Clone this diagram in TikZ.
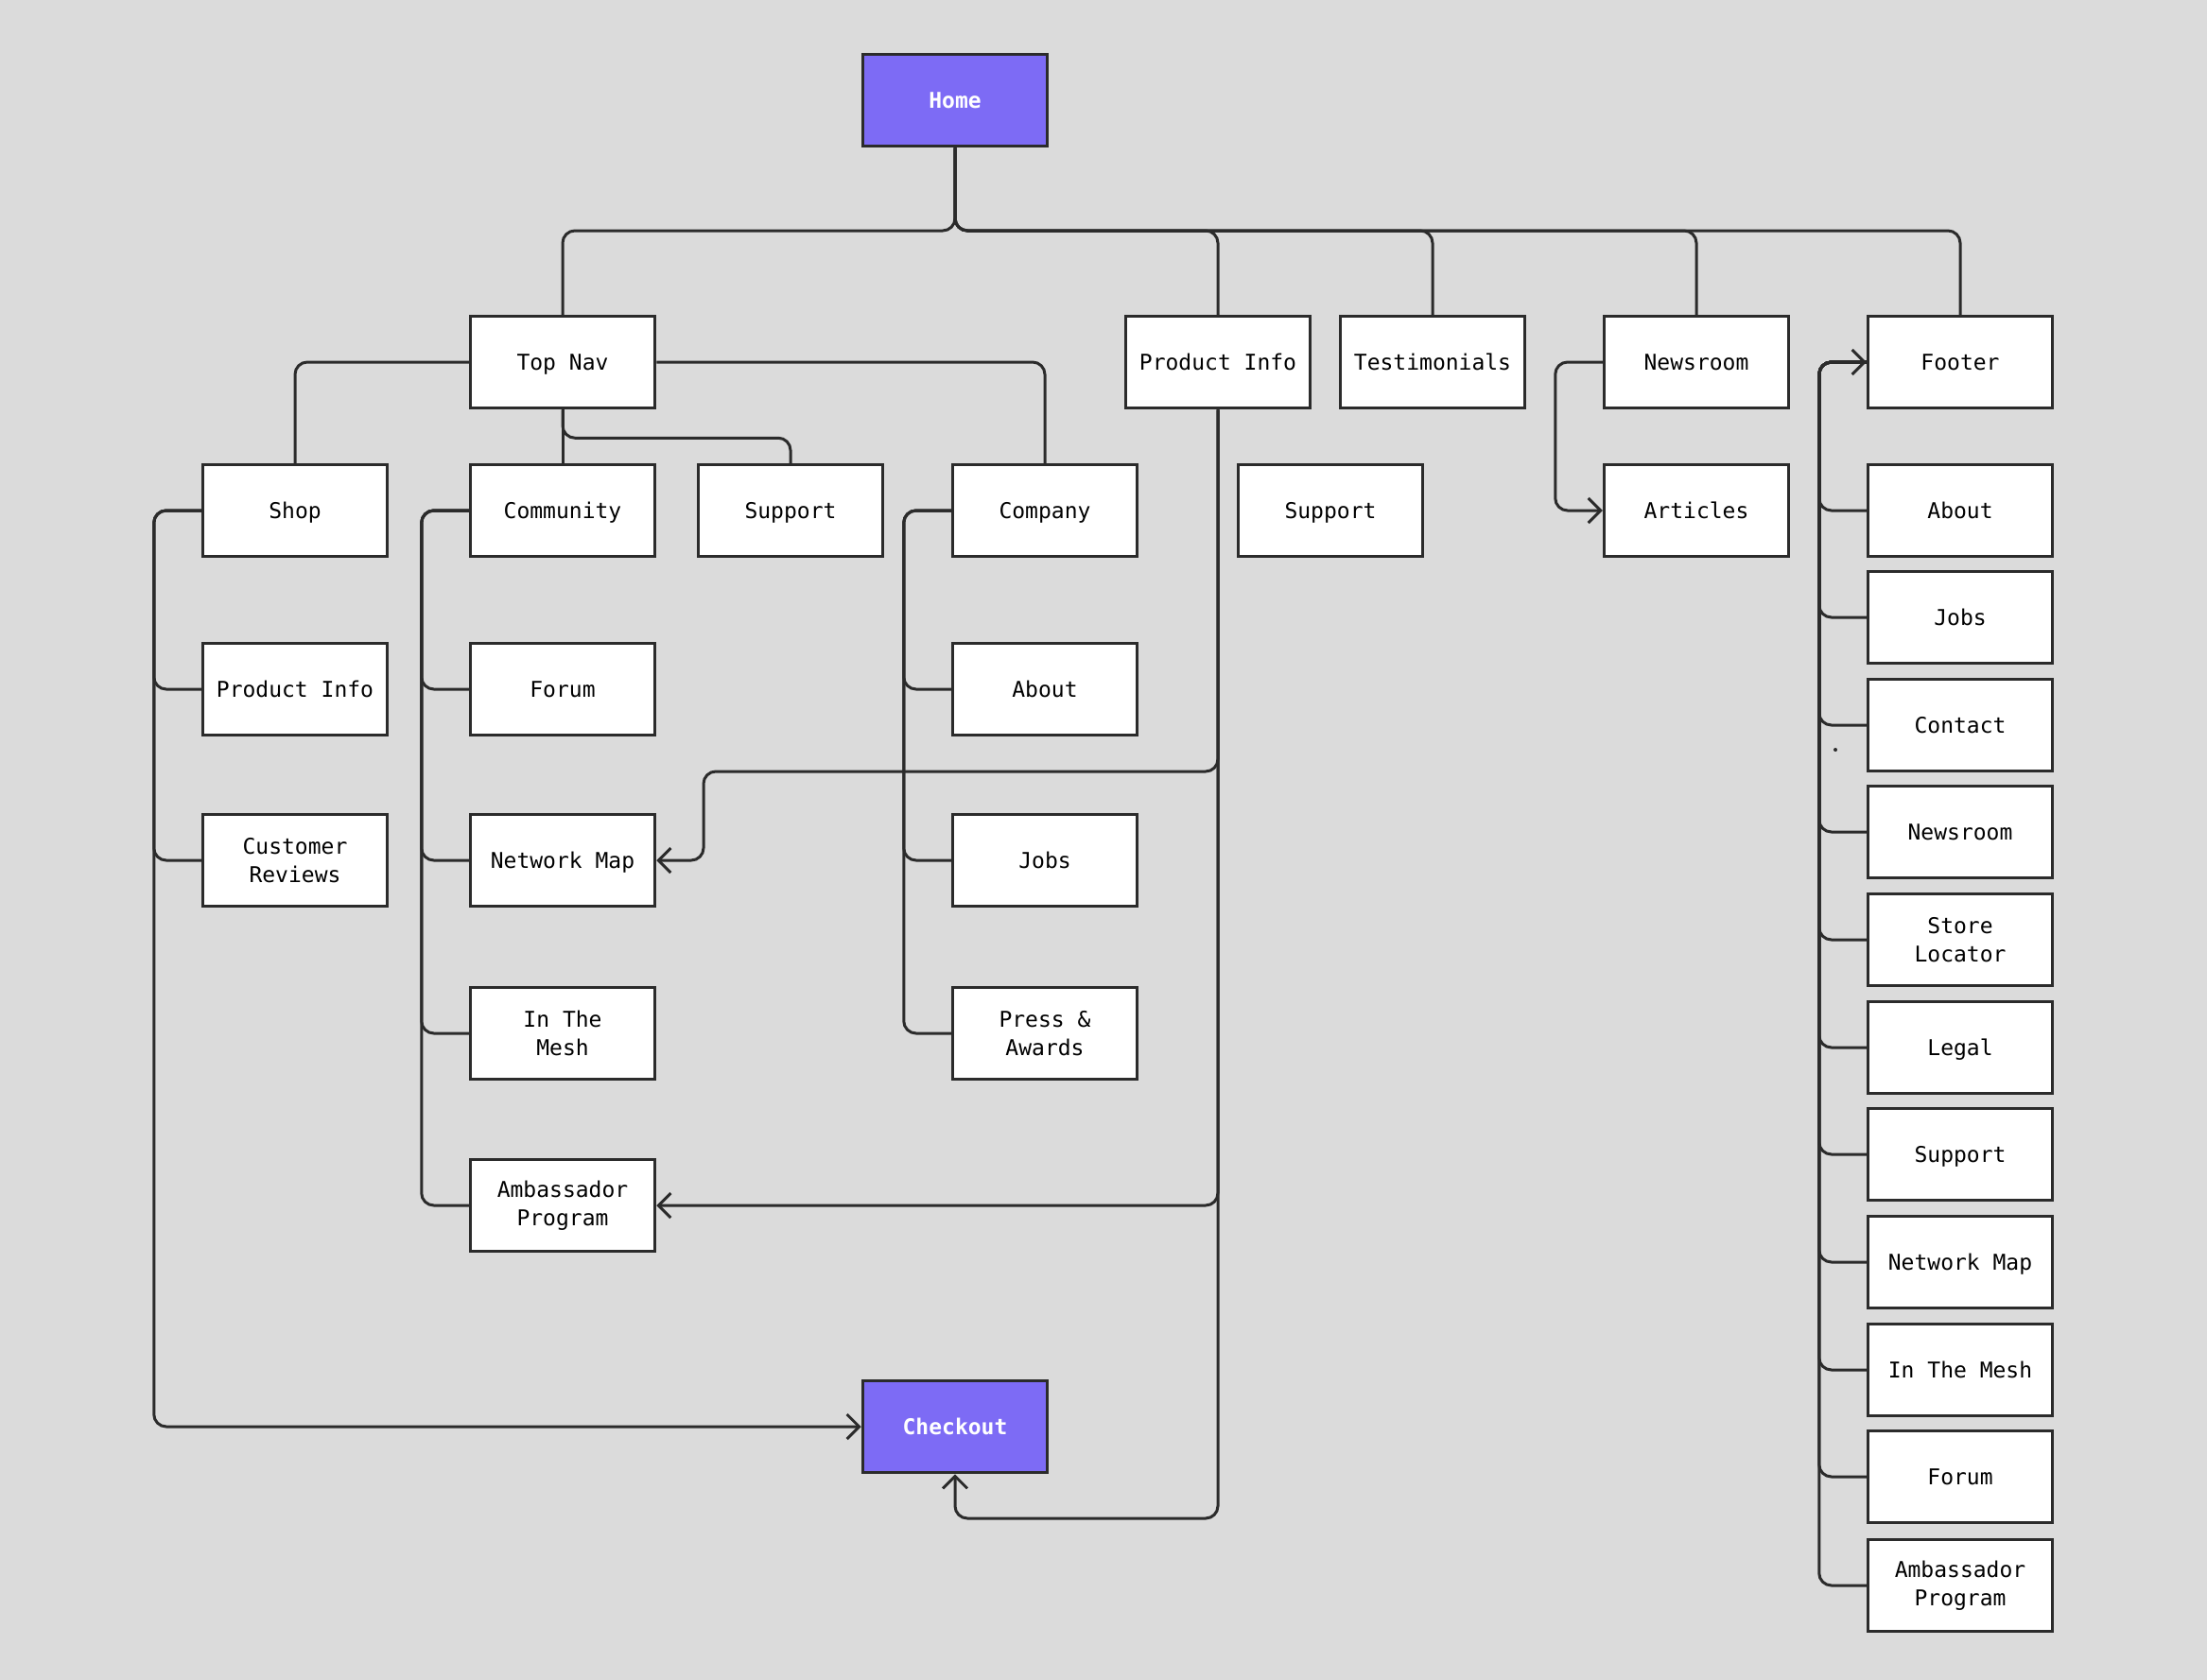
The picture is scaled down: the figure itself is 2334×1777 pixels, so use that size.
\documentclass[tikz,border=0pt]{standalone}
\usepackage{fontspec}
\setmonofont{DejaVu Sans Mono}
\usetikzlibrary{arrows.meta}
\definecolor{bg}{HTML}{DBDBDB}
\definecolor{ink}{HTML}{2B2B2B}
\definecolor{purp}{HTML}{7D6BF5}
\begin{document}
\begin{tikzpicture}[x=1pt,y=-1pt,
 box/.style={draw=ink, line width=3.5pt, fill=white, minimum width=195pt, minimum height=97pt, inner sep=0pt, align=center, font=\fontsize{23}{30}\selectfont\ttfamily},
 one/.style={box, text height=16.8pt, text depth=0pt},
 hl/.style={one, fill=purp, text=white, font=\fontsize{23}{30}\selectfont\ttfamily\bfseries},
 conn/.style={draw=ink, line width=3pt, rounded corners=13pt},
 arr/.style={conn, -{Straight Barb[length=13pt, width=26pt]}}
]
\fill[bg] (0,0) rectangle (2334,1777);

% nodes
\node[hl]  (home)     at (1010,106)  {Home};
\node[one] (topnav)   at (595,383)   {Top Nav};
\node[one] (pinfo)    at (1288,383)  {Product Info};
\node[one] (testi)    at (1515,383)  {Testimonials};
\node[one] (news)     at (1794,383)  {Newsroom};
\node[one] (footer)   at (2073,383)  {Footer};

\node[one] (shop)     at (312,540)   {Shop};
\node[one] (comm)     at (595,540)   {Community};
\node[one] (supa)     at (836,540)   {Support};
\node[one] (comp)     at (1105,540)  {Company};
\node[one] (supb)     at (1407,540)  {Support};
\node[one] (articles) at (1794,540)  {Articles};

\node[one] (pinfob)   at (312,729)   {Product Info};
\node[one] (forum)    at (595,729)   {Forum};
\node[one] (about)    at (1105,729)  {About};

\node[box] (reviews)  at (312,910)   {Customer\\Reviews};
\node[one] (netmap)   at (595,910)   {Network Map};
\node[one] (jobs)     at (1105,910)  {Jobs};

\node[box] (mesh)     at (595,1093)  {In The\\Mesh};
\node[box] (press)    at (1105,1093) {Press \&\\Awards};

\node[box] (amb)      at (595,1275)  {Ambassador\\Program};
\node[hl]  (checkout) at (1010,1509) {Checkout};

\node[one] (fa)  at (2073,540)  {About};
\node[one] (fb)  at (2073,653)  {Jobs};
\node[one] (fc)  at (2073,767)  {Contact};
\node[one] (fd)  at (2073,880)  {Newsroom};
\node[box] (fe)  at (2073,994)  {Store\\Locator};
\node[one] (ff)  at (2073,1108) {Legal};
\node[one] (fg)  at (2073,1221) {Support};
\node[one] (fh)  at (2073,1335) {Network Map};
\node[one] (fi)  at (2073,1449) {In The Mesh};
\node[one] (fj)  at (2073,1562) {Forum};
\node[box] (fk)  at (2073,1677) {Ambassador\\Program};

\fill[ink] (1941,793) circle (2pt);

% coordinates
\coordinate (bus)    at (1010,244);
\coordinate (nmturn) at (744,816);
\coordinate (chk)    at (1010,1606);

% Home bus
\draw[conn] (home.south) -- (bus) -| (topnav.north);
\draw[conn] (home.south) -- (bus) -| (pinfo.north);
\draw[conn] (home.south) -- (bus) -| (testi.north);
\draw[conn] (home.south) -- (bus) -| (news.north);
\draw[conn] (home.south) -- (bus) -| (footer.north);

% Top Nav
\draw[conn] (topnav.west) -| (shop.north);
\draw[conn] (topnav.east) -| (comp.north);
\draw[conn] (topnav.south) -- (comm.north);
\draw[conn] (topnav.south) -- ++(0,30) -| (supa.north);

% Shop
\draw[conn] (shop.west) -- ++(-50,0) |- (pinfob.west);
\draw[conn] (shop.west) -- ++(-50,0) |- (reviews.west);
\draw[arr]  (shop.west) -- ++(-50,0) |- (checkout.west);

% Community
\draw[conn] (comm.west) -- ++(-50,0) |- (forum.west);
\draw[conn] (comm.west) -- ++(-50,0) |- (netmap.west);
\draw[conn] (comm.west) -- ++(-50,0) |- (mesh.west);
\draw[conn] (comm.west) -- ++(-50,0) |- (amb.west);

% Company
\draw[conn] (comp.west) -- ++(-50,0) |- (about.west);
\draw[conn] (comp.west) -- ++(-50,0) |- (jobs.west);
\draw[conn] (comp.west) -- ++(-50,0) |- (press.west);

% Product Info
\draw[arr] (pinfo.south) |- (nmturn) |- (netmap.east);
\draw[arr] (pinfo.south) |- (amb.east);
\draw[arr] (pinfo.south) |- (chk) -- (checkout.south);

% Newsroom
\draw[arr] (news.west) -- ++(-50,0) |- (articles.west);

% Footer
\foreach \n in {fa,fb,fc,fd,fe,ff,fg,fh,fi,fj}{
  \draw[conn] (\n.west) -- ++(-50,0) |- (footer.west);
}
\draw[arr] (fk.west) -- ++(-50,0) |- (footer.west);
\end{tikzpicture}
\end{document}
